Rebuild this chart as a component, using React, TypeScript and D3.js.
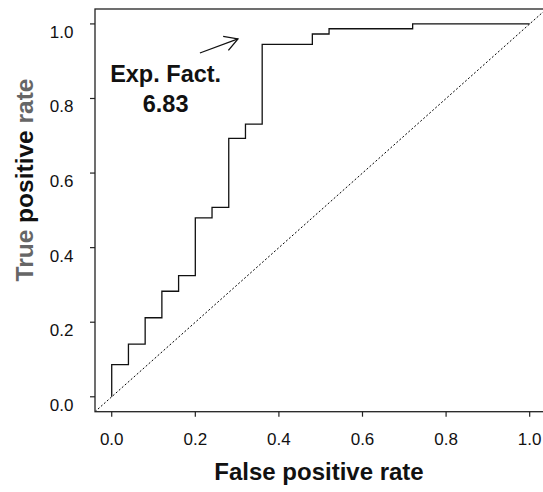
import React from "react";
import * as d3 from "d3";

const fpr = [0, 0, 0.04, 0.08, 0.12, 0.16, 0.2, 0.24, 0.28, 0.32, 0.36, 0.48, 0.52, 0.72, 1.0];
const tpr = [0, 0.086, 0.141, 0.212, 0.283, 0.325, 0.48, 0.508, 0.693, 0.731, 0.945, 0.973, 0.987, 1.0, 1.0];
const ticks = [0, 0.2, 0.4, 0.6, 0.8, 1.0];
const tickLabels = ["0.0", "0.2", "0.4", "0.6", "0.8", "1.0"];
const annotLines = ["Exp. Fact.", "6.83"];
const annotPos = { x: 0.129, y1: 0.845, y2: 0.764 };
const arrowFrom = [0.211, 0.922];
const arrowTo = [0.302, 0.96];

const W = 543;
const H = 492;
const FONT = "'Liberation Sans', Arial, Helvetica, sans-serif";

export default function App() {
  const x = d3.scaleLinear().domain([-0.04, 1.04]).range([95, 546.4]);
  const y = d3.scaleLinear().domain([-0.04, 1.04]).range([411.7, 9]);

  const pts: [number, number][] = fpr.map((f, i) => [f, tpr[i]]);
  const line = d3
    .line<[number, number]>()
    .x((d) => x(d[0]))
    .y((d) => y(d[1]))
    .curve(d3.curveStepAfter);

  const ax0 = x(arrowFrom[0]);
  const ay0 = y(arrowFrom[1]);
  const ax1 = x(arrowTo[0]);
  const ay1 = y(arrowTo[1]);
  const ang = Math.atan2(ay1 - ay0, ax1 - ax0);
  const hl = 15;
  const ha = Math.PI / 6;
  const h1 = [ax1 - hl * Math.cos(ang - ha), ay1 - hl * Math.sin(ang - ha)];
  const h2 = [ax1 - hl * Math.cos(ang + ha), ay1 - hl * Math.sin(ang + ha)];

  const [x0, x1] = x.range();
  const [yb, yt] = y.range();

  return (
    <svg
      width={W}
      height={H}
      style={{ position: "absolute", left: 0, top: 0, background: "#fff" }}
      fontFamily={FONT}
    >
      <defs>
        <clipPath id="plotclip">
          <rect x={x0} y={yt} width={x1 - x0} height={yb - yt} />
        </clipPath>
      </defs>
      {/* diagonal */}
      <line
        x1={x(-0.04)}
        y1={y(-0.04)}
        x2={x(1.04)}
        y2={y(1.04)}
        stroke="#000"
        strokeWidth={1}
        strokeDasharray="2,2"
        clipPath="url(#plotclip)"
      />
      {/* ROC curve */}
      <path d={line(pts) || ""} fill="none" stroke="#111" strokeWidth={1.3} />
      {/* box */}
      <rect x={x0} y={yt} width={x1 - x0} height={yb - yt} fill="none" stroke="#222" strokeWidth={1.3} />
      {/* y ticks */}
      {ticks.map((t, i) => (
        <g key={"y" + i}>
          <line x1={x0 - 5} x2={x0} y1={y(t)} y2={y(t)} stroke="#222" strokeWidth={1.2} />
          <text x={73.5} y={y(t) + 14} textAnchor="end" fontSize={17} fill="#111">
            {tickLabels[i]}
          </text>
        </g>
      ))}
      {/* x ticks */}
      {ticks.map((t, i) => (
        <g key={"x" + i}>
          <line x1={x(t)} x2={x(t)} y1={yb} y2={yb + 5} stroke="#222" strokeWidth={1.2} />
          <text x={x(t)} y={444.5} textAnchor="middle" fontSize={17} fill="#111">
            {tickLabels[i]}
          </text>
        </g>
      ))}
      {/* axis titles */}
      <text x={319} y={480} textAnchor="middle" fontSize={24} fontWeight="bold" fill="#111">
        False positive rate
      </text>
      <text
        transform={`translate(33,180) rotate(-90)`}
        textAnchor="middle"
        fontSize={24.5}
        fontWeight="bold"
      >
        <tspan fill="#666">True </tspan>
        <tspan fill="#111">positive </tspan>
        <tspan fill="#666">rate</tspan>
      </text>
      {/* annotation */}
      <text x={x(annotPos.x)} y={y(annotPos.y1)} textAnchor="middle" fontSize={23.5} fontWeight="bold" fill="#111">
        {annotLines[0]}
      </text>
      <text x={x(annotPos.x)} y={y(annotPos.y2)} textAnchor="middle" fontSize={23.5} fontWeight="bold" fill="#111">
        {annotLines[1]}
      </text>
      <line x1={ax0} y1={ay0} x2={ax1} y2={ay1} stroke="#111" strokeWidth={1.3} />
      <polyline
        points={`${h1[0]},${h1[1]} ${ax1},${ay1} ${h2[0]},${h2[1]}`}
        fill="none"
        stroke="#111"
        strokeWidth={1.3}
      />
    </svg>
  );
}
